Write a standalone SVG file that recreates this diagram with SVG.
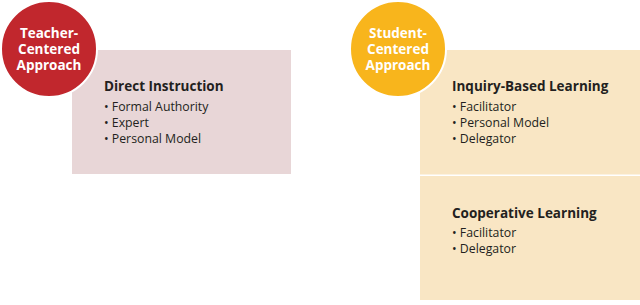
<svg xmlns="http://www.w3.org/2000/svg" width="640" height="305" viewBox="0 0 640 305">
<style>
.box-t{fill:#e8d6d7}
.box-s{fill:#f9e6c4}
.h{font-family:"Open Sans","Liberation Sans",sans-serif;font-weight:bold;font-size:13.5px;fill:#231f20}
.b{font-family:"Open Sans","Liberation Sans",sans-serif;font-size:12.3px;fill:#231f20}
.c{font-family:"Open Sans","Liberation Sans",sans-serif;font-weight:bold;font-size:13.5px;fill:#ffffff;text-anchor:middle}
</style>
<rect width="640" height="305" fill="#ffffff"/>
<g id="direct-instruction">
<rect class="box-t" x="72" y="50" width="219" height="124"/>
<text class="h" x="104" y="91">Direct Instruction</text>
<text class="b" x="104" y="111">• Formal Authority</text>
<text class="b" x="104" y="127">• Expert</text>
<text class="b" x="104" y="143">• Personal Model</text>
</g>
<g id="inquiry-based">
<rect class="box-s" x="420" y="50" width="220" height="124.5"/>
<text class="h" x="452" y="91">Inquiry-Based Learning</text>
<text class="b" x="452" y="111">• Facilitator</text>
<text class="b" x="452" y="127">• Personal Model</text>
<text class="b" x="452" y="143">• Delegator</text>
</g>
<g id="cooperative">
<rect class="box-s" x="420" y="176" width="220" height="124"/>
<text class="h" x="452" y="218">Cooperative Learning</text>
<text class="b" x="452" y="237">• Facilitator</text>
<text class="b" x="452" y="253">• Delegator</text>
</g>
<g id="teacher-centered">
<circle cx="49" cy="49" r="48" fill="#c1272d" stroke="#ffffff" stroke-width="2"/>
<text class="c" x="49" y="38">Teacher-</text>
<text class="c" x="49" y="54">Centered</text>
<text class="c" x="49" y="70">Approach</text>
</g>
<g id="student-centered">
<circle cx="398" cy="49" r="48" fill="#f8b51c" stroke="#ffffff" stroke-width="2"/>
<text class="c" x="398" y="38">Student-</text>
<text class="c" x="398" y="54">Centered</text>
<text class="c" x="398" y="70">Approach</text>
</g>
<g id="connectors"/>
</svg>
